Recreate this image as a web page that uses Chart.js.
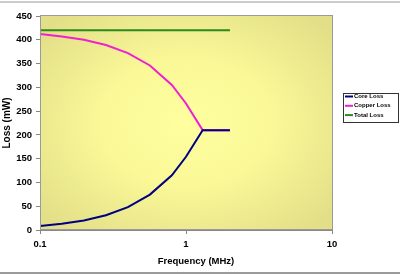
<!DOCTYPE html>
<html>
<head>
<meta charset="utf-8">
<script src="https://cdn.jsdelivr.net/npm/chart.js@4/dist/chart.umd.min.js"></script>
<style>
html,body{margin:0;padding:0;background:#fff;}
canvas{display:block;}
</style>
</head>
<body>
<canvas id="c" width="400" height="275"></canvas>
<script>
const frequencies = [0.1, 0.141, 0.2, 0.283, 0.4, 0.566, 0.8, 1.0, 1.3, 2.0];
const coreLoss   = [8.4, 13, 20, 31, 48, 74.5, 115, 154, 210, 210];
const copperLoss = [412, 407, 400, 389, 372, 346, 305, 266, 210, 210];
const totalFreq  = [0.1, 2.0];
const totalLoss  = [420, 420];
const xTicks = [0.1, 1, 10];
const seriesNames = ['Core Loss', 'Copper Loss', 'Total Loss'];
const seriesColors = ['#000080', '#F020D0', '#2A8A1E'];

const toXY = (xs, ys) => xs.map((x, i) => ({x: x, y: ys[i]}));

const bgPlugin = {
  id: 'bg',
  beforeDraw(chart) {
    const {ctx, chartArea: a} = chart;
    ctx.save();
    ctx.fillStyle = '#9a9a9a';
    ctx.fillRect(0, 1.5, 400, 1);
    ctx.fillRect(0, 272, 400, 2);
    const cx = (a.left + a.right) / 2, cy = (a.top + a.bottom) / 2;
    ctx.beginPath();
    ctx.rect(a.left, a.top, a.right - a.left, a.bottom - a.top);
    ctx.clip();
    ctx.translate(cx, cy);
    ctx.scale((a.right - a.left) / 2, (a.bottom - a.top) / 2);
    const g = ctx.createRadialGradient(0, 0, 0, 0, 0, 1.3);
    g.addColorStop(0, '#FFFFA0');
    g.addColorStop(0.45, '#FAF897');
    g.addColorStop(1, '#E2DF88');
    ctx.fillStyle = g;
    ctx.fillRect(-1, -1, 2, 2);
    ctx.restore();
  },
  afterDraw(chart) {
    const {ctx, chartArea: a} = chart;
    ctx.save();
    ctx.strokeStyle = '#9a9a9a';
    ctx.lineWidth = 1;
    ctx.strokeRect(a.left + 0.5, a.top - 0.5, a.right - a.left, a.bottom - a.top);
    ctx.fillStyle = '#000';
    ctx.font = 'bold 9.5px "Liberation Sans", Arial, sans-serif';
    ctx.textAlign = 'center';
    ctx.textBaseline = 'middle';
    ctx.fillText('Frequency (MHz)', 196, 261);
    const lx = 343, ly = 93, lw = 56, lh = 30;
    ctx.fillStyle = '#fff';
    ctx.fillRect(lx, ly, lw, lh);
    ctx.strokeStyle = '#333';
    ctx.strokeRect(lx + 0.5, ly + 0.5, lw - 1, lh - 1);
    ctx.font = 'bold 6px "Liberation Sans", Arial, sans-serif';
    ctx.textAlign = 'left';
    chart.data.datasets.forEach((ds, i) => {
      const y = 96.5 + i * 9.3;
      ctx.strokeStyle = ds.borderColor;
      ctx.lineWidth = 2;
      ctx.beginPath();
      ctx.moveTo(lx + 2, y);
      ctx.lineTo(lx + 10, y);
      ctx.stroke();
      ctx.fillStyle = '#000';
      ctx.fillText(ds.label, lx + 11, y);
    });
    ctx.restore();
  }
};

const ds = (label, data, color) => ({
  label, data, borderColor: color, backgroundColor: color,
  borderWidth: 2, pointRadius: 0, tension: 0, fill: false
});

new Chart(document.getElementById('c'), {
  type: 'line',
  data: {
    datasets: [
      ds(seriesNames[0], toXY(frequencies, coreLoss), seriesColors[0]),
      ds(seriesNames[1], toXY(frequencies, copperLoss), seriesColors[1]),
      ds(seriesNames[2], toXY(totalFreq, totalLoss), seriesColors[2])
    ]
  },
  options: {
    responsive: false,
    animation: false,
    devicePixelRatio: 1,
    layout: {padding: {top: 16, right: 68, left: 0, bottom: 0}},
    plugins: {legend: {display: false}, tooltip: {enabled: false}},
    scales: {
      x: {
        type: 'logarithmic',
        min: 0.1, max: 10,
        afterBuildTicks(scale) { scale.ticks = xTicks.map(v => ({value: v})); },
        afterFit(scale) { scale.height = 45; },
        ticks: {
          color: '#000',
          font: {family: '"Liberation Sans", Arial, sans-serif', size: 9.5, weight: 'bold'},
          padding: 5,
          maxRotation: 0,
          callback: (v) => String(v)
        },
        grid: {drawOnChartArea: false, drawTicks: true, tickLength: 4, color: '#888'},
        border: {color: '#888'},
        title: {display: false}
      },
      y: {
        min: 0, max: 450,
        afterFit(scale) { scale.width = 40; },
        ticks: {
          stepSize: 50,
          color: '#000',
          font: {family: '"Liberation Sans", Arial, sans-serif', size: 9.5, weight: 'bold'},
          padding: 4
        },
        grid: {drawOnChartArea: false, drawTicks: true, tickLength: 4, color: '#888'},
        border: {color: '#888'},
        title: {
          display: true, text: 'Loss (mW)', color: '#000',
          font: {family: '"Liberation Sans", Arial, sans-serif', size: 10, weight: 'bold'},
          padding: {top: 1, bottom: 0}
        }
      }
    }
  },
  plugins: [bgPlugin]
});
</script>
</body>
</html>
